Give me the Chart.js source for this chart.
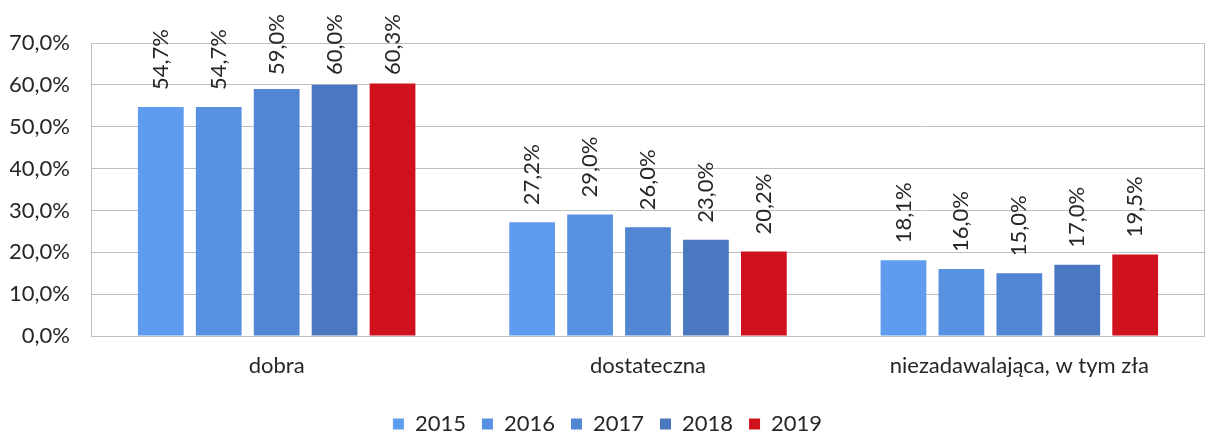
<!DOCTYPE html>
<html><head><meta charset="utf-8">
<script src="https://cdn.jsdelivr.net/npm/chart.js@4/dist/chart.umd.min.js"></script>
<style>html,body{margin:0;padding:0;background:#fff}#wrap{width:1205px;height:432px}</style>
</head><body><div id="wrap"><canvas id="c" width="1205" height="432"></canvas></div>
<script>
const categories = ["dobra", "dostateczna", "niezadawalająca, w tym zła"];
const years = ["2015", "2016", "2017", "2018", "2019"];
const v2015 = [54.7, 27.2, 18.1];
const v2016 = [54.7, 29.0, 16.0];
const v2017 = [59.0, 26.0, 15.0];
const v2018 = [60.0, 23.0, 17.0];
const v2019 = [60.3, 20.2, 19.5];
const colors = ["#5f9cf0", "#5891e2", "#5285d3", "#4a78c0", "#d0111e"];
const series = [v2015, v2016, v2017, v2018, v2019];
const FONT = "Lato, 'Open Sans', sans-serif";
const FS = 22;
const fmt = v => v.toFixed(1).replace('.', ',') + '%';

const labelPlugin = {
  id: 'labels',
  afterDatasetsDraw(chart) {
    const ctx = chart.ctx;
    ctx.save();
    ctx.font = FS + "px " + FONT;
    ctx.fillStyle = "#262626";
    chart.data.datasets.forEach((ds, i) => {
      const meta = chart.getDatasetMeta(i);
      meta.data.forEach((bar, j) => {
        const txt = fmt(ds.data[j]);
        const w = ctx.measureText(txt).width;
        let yEnd = bar.y - 17;
        if (yEnd - w < 14) yEnd = 14 + w;
        ctx.save();
        ctx.translate(bar.x, yEnd);
        ctx.rotate(-Math.PI / 2);
        ctx.textAlign = 'left';
        ctx.textBaseline = 'middle';
        ctx.fillText(txt, 0, 0);
        ctx.restore();
      });
    });
    ctx.restore();
  }
};
const borderPlugin = {
  id: 'frame',
  beforeDatasetsDraw(chart) {
    const a = chart.chartArea, ctx = chart.ctx;
    ctx.save();
    ctx.strokeStyle = "#bfbfbf";
    ctx.lineWidth = 1;
    ctx.strokeRect(Math.round(a.left) + 0.5, Math.round(a.top) + 0.5, Math.round(a.right - a.left) - 1, Math.round(a.bottom - a.top));
    ctx.restore();
  }
};

new Chart(document.getElementById('c'), {
  type: 'bar',
  data: {
    labels: categories,
    datasets: years.map((y, i) => ({
      label: y, data: series[i], backgroundColor: colors[i],
      categoryPercentage: 0.78, barPercentage: 0.79
    }))
  },
  options: {
    responsive: false, animation: false,
    layout: { padding: { top: 43, right: 0, left: 10, bottom: -13 } },
    plugins: {
      tooltip: { enabled: false },
      legend: {
        position: 'bottom',
        labels: { font: { size: FS, family: FONT }, color: "#262626", boxWidth: 11, boxHeight: 11, padding: 16 }
      }
    },
    scales: {
      x: {
        grid: { display: false, drawTicks: false },
        border: { display: false },
        ticks: { font: { size: FS, family: FONT }, color: "#262626", padding: 17 },
        afterFit: s => { s.height = 61; }
      },
      y: {
        min: 0, max: 70,
        grid: { color: "#bfbfbf", drawTicks: false },
        border: { display: false },
        ticks: { stepSize: 10, font: { size: FS, family: FONT }, color: "#262626", padding: 21, callback: v => fmt(v) },
        afterFit: s => { s.width = 81; }
      }
    }
  },
  plugins: [labelPlugin, borderPlugin]
});
</script></body></html>
